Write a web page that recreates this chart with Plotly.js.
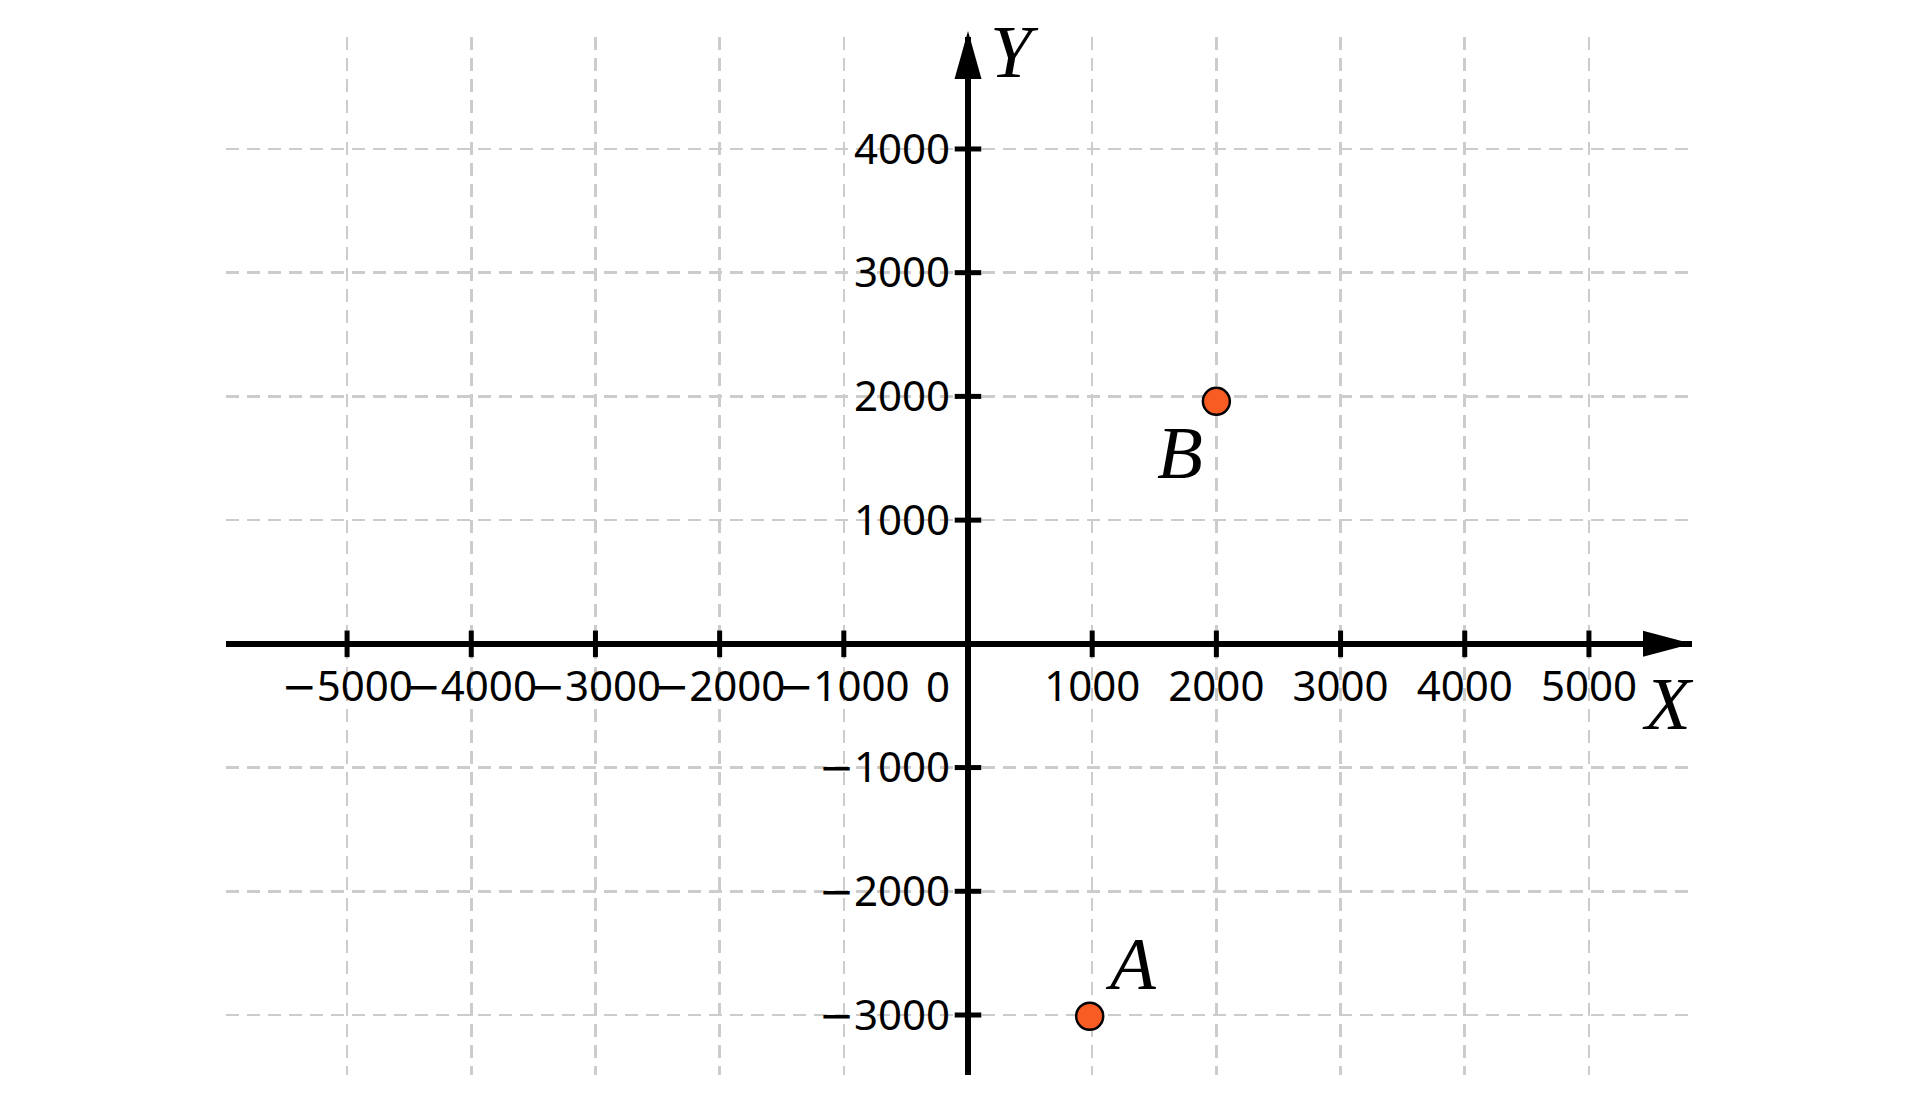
<!DOCTYPE html>
<html>
<head>
<meta charset="utf-8">
<script src="https://cdn.plot.ly/plotly-3.0.1.min.js"></script>
<style>html,body{margin:0;padding:0;background:#fff;}#chart{width:1920px;height:1105px;}</style>
</head>
<body>
<div id="chart"></div>
<script>
// ---- data ----
const xTicks = [-5000, -4000, -3000, -2000, -1000, 1000, 2000, 3000, 4000, 5000];
const yTicks = [-3000, -2000, -1000, 1000, 2000, 3000, 4000];
const pointNames = ['A', 'B'];
const pointX = [980, 2000];
const pointY = [-3010, 1960];
const xRange = [-5975, 5830];
const yRange = [-3485, 4905];

// ---- styles ----
const labelShiftX = [41, -36];
const labelShiftY = [53, -51];
const tickFont = {family: 'Noto Sans, Open Sans, sans-serif', size: 42, color: '#000'};
const mathFont = {family: 'Liberation Serif, DejaVu Serif, serif', size: 75, color: '#000', style: 'italic'};
const fmt = v => (v < 0 ? '<span style="font-family:DejaVu Sans">\u2212</span>' : '') + Math.abs(v);

const xPos = (0 - yRange[0]) / (yRange[1] - yRange[0]);
const yPos = (0 - xRange[0]) / (xRange[1] - xRange[0]);

const traces = [
  { // x-axis tick marks
    x: xTicks, y: xTicks.map(() => 0), mode: 'markers', type: 'scatter', hoverinfo: 'skip',
    marker: {symbol: 'line-ns', size: 19, line: {width: 5, color: '#000'}}, cliponaxis: false
  },
  { // y-axis tick marks
    x: yTicks.map(() => 0), y: yTicks, mode: 'markers', type: 'scatter', hoverinfo: 'skip',
    marker: {symbol: 'line-ew', size: 19, line: {width: 5, color: '#000'}}, cliponaxis: false
  },
  { // points
    x: pointX, y: pointY, mode: 'markers', type: 'scatter', text: pointNames,
    marker: {size: 27, color: '#f95c22', line: {width: 2.5, color: '#000'}}, cliponaxis: false
  }
];

const annotations = pointNames.map((n, i) => ({
  x: pointX[i], y: pointY[i], xref: 'x', yref: 'y', text: n, showarrow: false,
  xanchor: 'center', yanchor: 'middle', xshift: labelShiftX[i], yshift: labelShiftY[i],
  font: mathFont
}));
annotations.push({x: 0, y: 0, xref: 'x', yref: 'y', text: '0', showarrow: false,
  xanchor: 'right', yanchor: 'middle', xshift: -16, yshift: -42, font: tickFont});
annotations.push({x: 0, y: 1, xref: 'x', yref: 'paper', text: 'Y', showarrow: false,
  xanchor: 'left', yanchor: 'middle', xshift: 20, yshift: -14, font: mathFont});
annotations.push({x: 1, y: 0, xref: 'paper', yref: 'y', text: 'X', showarrow: false,
  xanchor: 'right', yanchor: 'middle', xshift: 4, yshift: -60, font: mathFont});

const shapes = [
  { // y arrowhead
    type: 'path', xref: 'x', yref: 'paper', xsizemode: 'pixel', ysizemode: 'pixel',
    xanchor: 0, yanchor: 1, path: 'M-13.5,-42L0,6L13.5,-42Z',
    fillcolor: '#000', line: {width: 0}, layer: 'above'
  },
  { // x arrowhead
    type: 'path', xref: 'paper', yref: 'y', xsizemode: 'pixel', ysizemode: 'pixel',
    xanchor: 1, yanchor: 0, path: 'M-49,13L0,0L-49,-13Z',
    fillcolor: '#000', line: {width: 0}, layer: 'above'
  }
];

const layout = {
  width: 1920, height: 1105,
  margin: {l: 226, r: 228, t: 37, b: 30, pad: 0},
  paper_bgcolor: '#fff', plot_bgcolor: '#fff',
  showlegend: false,
  xaxis: {
    range: xRange, tickvals: xTicks, ticktext: xTicks.map(fmt), ticks: '', showline: false,
    anchor: 'free', position: xPos, ticklabelstandoff: 14, tickangle: 0,
    showgrid: true, gridcolor: '#cccccc', gridwidth: 2.5, griddash: '13px,8px',
    zeroline: true, zerolinecolor: '#000', zerolinewidth: 6,
    tickfont: tickFont, fixedrange: true
  },
  yaxis: {
    range: yRange, tickvals: yTicks, ticktext: yTicks.map(fmt), ticks: '', showline: false,
    anchor: 'free', position: yPos, ticklabelstandoff: 18,
    showgrid: true, gridcolor: '#cccccc', gridwidth: 2.5, griddash: '13px,8px',
    zeroline: true, zerolinecolor: '#000', zerolinewidth: 6,
    tickfont: tickFont, fixedrange: true
  },
  annotations: annotations,
  shapes: shapes
};

Plotly.newPlot('chart', traces, layout, {displayModeBar: false, staticPlot: true});
</script>
</body>
</html>
